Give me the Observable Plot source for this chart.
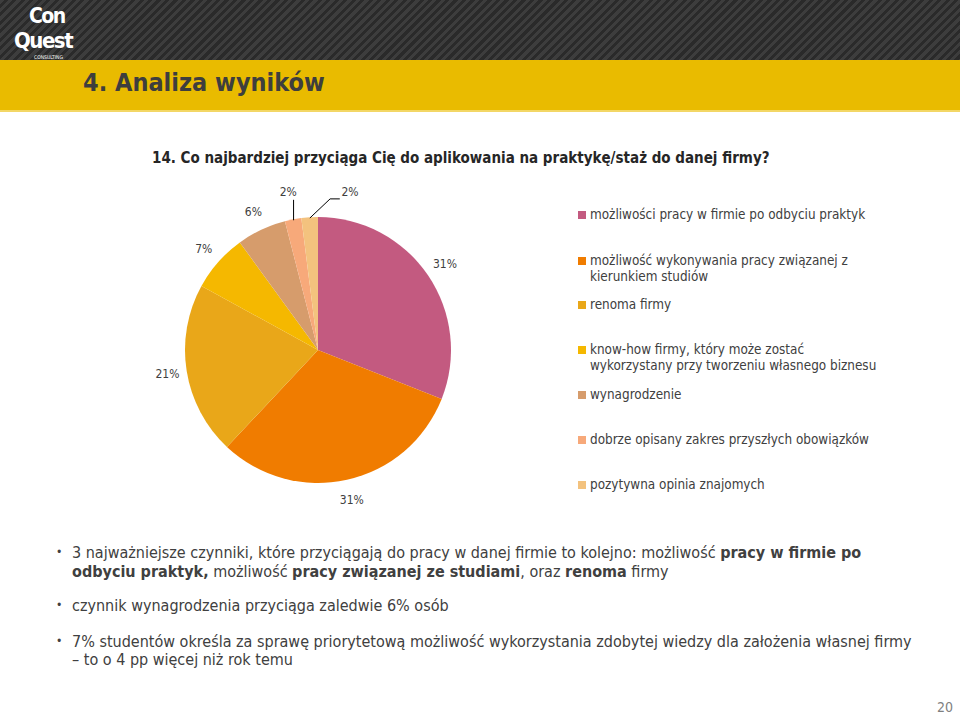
<!DOCTYPE html>
<html><head><meta charset="utf-8">
<script src="https://cdn.jsdelivr.net/npm/d3@7"></script>
<script src="https://cdn.jsdelivr.net/npm/@observablehq/plot@0.6"></script>
<style>
body{margin:0;width:960px;height:714px;position:relative;overflow:hidden;background:#fff;font-family:"DejaVu Sans Condensed","DejaVu Sans",sans-serif;font-stretch:condensed;color:#404040}
#top{position:absolute;left:0;top:0;width:960px;height:60px;background:repeating-linear-gradient(135deg,#3d3d3d 0 3px,#2a2a2a 3px 6px)}
#logo{position:absolute;left:14px;top:0;color:#fff;font-family:"DejaVu Sans Condensed","DejaVu Sans",sans-serif;font-weight:bold}
#logo span{position:absolute;white-space:nowrap}
#logo .a{left:15px;top:4px;font-size:21px;line-height:24px;letter-spacing:-1.5px}
#logo .b{left:0;top:28px;font-size:22px;line-height:26px;letter-spacing:-1.5px}
#logo .c{left:20px;top:54px;font-size:5px;line-height:6px;font-weight:normal;letter-spacing:0}
#band{position:absolute;left:0;top:60px;width:960px;height:50px;background:#e9bb00;border-bottom:2px solid #f3d766}
#h1{position:absolute;left:83px;top:66px;font-size:25px;line-height:34px;font-weight:bold;color:#3e3e3e;white-space:nowrap}
#q{position:absolute;left:152px;top:147px;font-size:15px;line-height:22px;font-weight:bold;color:#262626;white-space:nowrap}
#chart{position:absolute;left:100px;top:170px}
.leg{position:absolute;left:578px;font-size:13.4px;line-height:15.5px;color:#404040;white-space:nowrap}
.leg i{position:absolute;left:0;top:4px;width:8px;height:8px}
.leg span{display:block;margin-left:12px}
.bl{position:absolute;left:72px;font-size:16px;line-height:19px;color:#404040;white-space:nowrap}
.bl b{color:#404040}
.dot{position:absolute;left:56px;font-size:12px;line-height:19px;color:#404040}
#pg{position:absolute;left:937px;top:699px;font-size:14px;line-height:16px;color:#7f7f7f}
</style></head>
<body>
<div id="top"><div id="logo"><span class="a">Con</span><span class="b">Quest</span><span class="c">CONSULTING</span></div></div>
<div id="band"></div>
<div id="h1">4. Analiza wyników</div>
<div id="q">14. Co najbardziej przyciąga Cię do aplikowania na praktykę/staż do danej firmy?</div>
<div id="chart"></div>
<div id="legend"></div>
<div id="notes"></div>
<div id="pg">20</div>
<script>
const categories = [
  "możliwości pracy w firmie po odbyciu praktyk",
  "możliwość wykonywania pracy związanej z kierunkiem studiów",
  "renoma firmy",
  "know-how firmy, który może zostać wykorzystany przy tworzeniu własnego biznesu",
  "wynagrodzenie",
  "dobrze opisany zakres przyszłych obowiązków",
  "pozytywna opinia znajomych"
];
const legendLines = [
  ["możliwości pracy w firmie po odbyciu praktyk"],
  ["możliwość wykonywania pracy związanej z", "kierunkiem studiów"],
  ["renoma firmy"],
  ["know-how firmy, który może zostać", "wykorzystany przy tworzeniu własnego biznesu"],
  ["wynagrodzenie"],
  ["dobrze opisany zakres przyszłych obowiązków"],
  ["pozytywna opinia znajomych"]
];
const shares = [31, 31, 21, 7, 6, 2, 2];
const pctLabels = ["31%", "31%", "21%", "7%", "6%", "2%", "2%"];
const sliceColors = ["#C35A80", "#F07C00", "#E9A719", "#F5B800", "#D69C6C", "#F7A97A", "#F3C27E"];

const table = categories.map((c, i) => ({category: c, share: shares[i], label: pctLabels[i]}));
const arcs = d3.pie().sort(null).value(d => d.share)(table);
const colorScale = Plot.scale({color: {type: "ordinal", domain: categories, range: sliceColors}});

// label anchors derived from slice mid-angles (clockwise from 12 o'clock)
const labelData = [];
const leaderData = [];
let smallCount = 0;
arcs.forEach((a, i) => {
  const m = (a.startAngle + a.endAngle) / 2;
  const ex = Math.sin(m), ey = Math.cos(m);
  if (a.data.share > 3) {
    labelData.push({label: a.data.label, x: ex * 1.15, y: ey * 1.15, anchor: "middle"});
  } else if (smallCount++ === 0) {
    leaderData.push({id: i, x: ex, y: ey}, {id: i, x: ex, y: 1.13});
    labelData.push({label: a.data.label, x: ex - 0.04, y: 1.19, anchor: "middle"});
  } else {
    leaderData.push({id: i, x: ex, y: ey}, {id: i, x: ex + 0.15, y: 1.14}, {id: i, x: ex + 0.22, y: 1.14});
    labelData.push({label: a.data.label, x: ex + 0.235, y: 1.19, anchor: "start"});
  }
});

function slices(index, scales) {
  const x0 = scales.x(0), y0 = scales.y(0), r = scales.x(1) - x0;
  const color = scales.color || (c => colorScale.apply(c));
  const arc = d3.arc().innerRadius(0).outerRadius(r);
  const g = d3.create("svg:g").attr("transform", `translate(${x0},${y0})`);
  g.selectAll("path").data(arcs).join("path")
    .attr("d", arc)
    .attr("fill", d => color(d.data.category));
  return g.node();
}

const R = 133, cx = 218, cy = 180;
const chart = Plot.plot({
  width: 440,
  height: 350,
  margin: 0,
  x: {domain: [-1, 1], range: [cx - R, cx + R], axis: null},
  y: {domain: [-1, 1], range: [cy + R, cy - R], axis: null},
  color: {type: "ordinal", domain: categories, range: sliceColors},
  style: {background: "transparent", fontFamily: "'DejaVu Sans Condensed','DejaVu Sans',sans-serif"},
  marks: [
    slices,
    Plot.line(leaderData, {x: "x", y: "y", z: "id", stroke: "#000", strokeWidth: 1}),
    Plot.text(labelData, {x: "x", y: "y", text: "label", textAnchor: "start", filter: d => d.anchor === "start", fill: "#404040", fontSize: 12}),
    Plot.text(labelData, {x: "x", y: "y", text: "label", filter: d => d.anchor === "middle", fill: "#404040", fontSize: 12})
  ]
});
document.getElementById("chart").appendChild(chart);

// legend
const legendCenters = [215, 261, 305, 350, 395, 440, 485];
const legend = document.getElementById("legend");
categories.forEach((c, i) => {
  const div = document.createElement("div");
  div.className = "leg";
  div.style.top = (legendCenters[i] - 8) + "px";
  div.innerHTML = `<i style="background:${colorScale.apply(c)}"></i>` + legendLines[i].map(t => `<span>${t}</span>`).join("");
  legend.appendChild(div);
});

// notes
const noteLines = [
  {y: 553, dot: true, html: "3 najważniejsze czynniki, które przyciągają do pracy w danej firmie to kolejno: możliwość <b>pracy w firmie po</b>"},
  {y: 572, dot: false, html: "<b>odbyciu praktyk,</b> możliwość <b>pracy związanej ze studiami</b>, oraz <b>renoma</b> firmy"},
  {y: 606, dot: true, html: "czynnik wynagrodzenia przyciąga zaledwie 6% osób"},
  {y: 642, dot: true, html: "7% studentów określa za sprawę priorytetową możliwość wykorzystania zdobytej wiedzy dla założenia własnej firmy"},
  {y: 660, dot: false, html: "– to o 4 pp więcej niż rok temu"}
];
const notes = document.getElementById("notes");
noteLines.forEach(l => {
  const d = document.createElement("div");
  d.className = "bl";
  d.style.top = (l.y - 10) + "px";
  d.innerHTML = l.html;
  notes.appendChild(d);
  if (l.dot) {
    const b = document.createElement("div");
    b.className = "dot";
    b.style.top = (l.y - 10) + "px";
    b.textContent = "•";
    notes.appendChild(b);
  }
});
</script>
</body></html>
